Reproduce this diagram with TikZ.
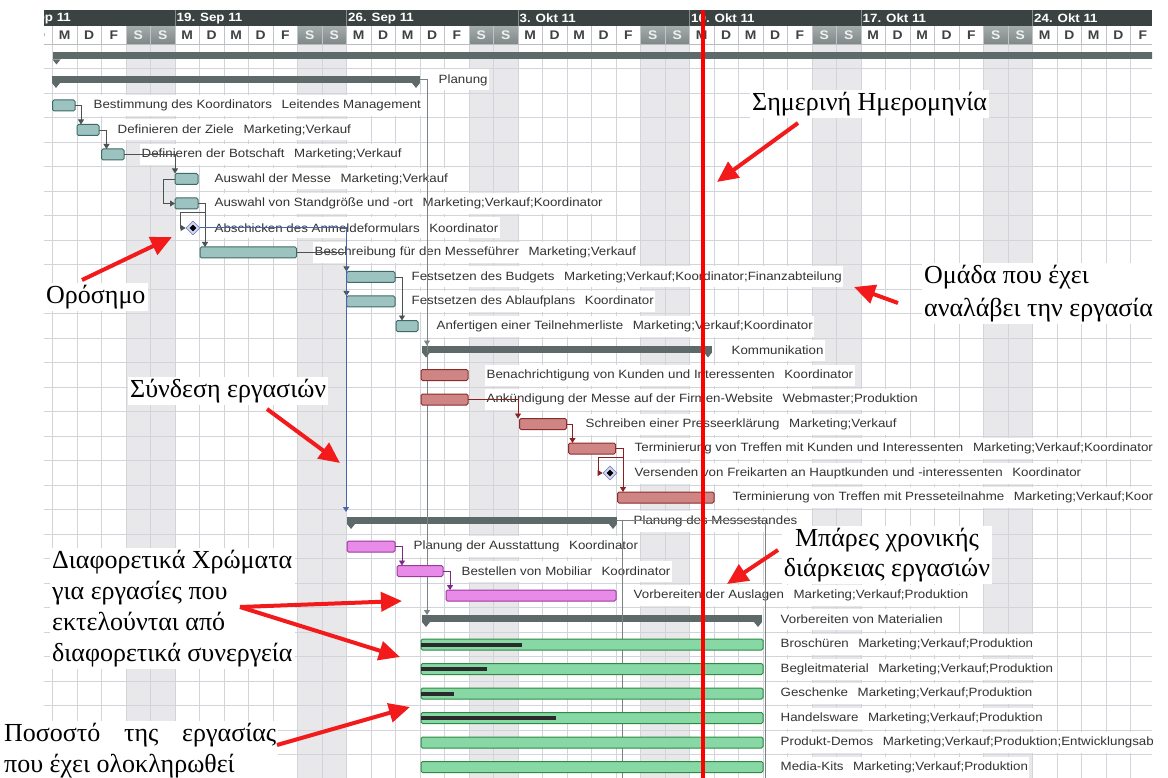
\documentclass[tikz,border=0pt]{standalone}
\usepackage{fontspec}
\setmainfont{Liberation Serif}
\newfontfamily\gsans[FakeStretch=1.11]{Liberation Sans}
\usetikzlibrary{arrows.meta,shapes.geometric}
\definecolor{hdrc}{HTML}{3B4242}
\definecolor{hdrsepc}{HTML}{848C8C}
\definecolor{gridc}{HTML}{D3D4DA}
\definecolor{wkendc}{HTML}{E8E8EA}
\definecolor{wkt}{HTML}{A2AAAA}
\definecolor{wkb}{HTML}{7E8686}
\definecolor{dayc}{HTML}{3E4242}
\definecolor{sumc}{HTML}{5E6969}
\definecolor{tealf}{HTML}{9CC3BF}
\definecolor{teald}{HTML}{3F6B67}
\definecolor{redf}{HTML}{CF8583}
\definecolor{redd}{HTML}{8A2C2C}
\definecolor{magf}{HTML}{E88AE8}
\definecolor{magd}{HTML}{9A3A9E}
\definecolor{grnf}{HTML}{87D8A5}
\definecolor{grnd}{HTML}{2F8A45}
\definecolor{progc}{HTML}{2A2A2A}
\definecolor{txtc}{HTML}{333333}
\definecolor{connc}{HTML}{4A5252}
\definecolor{lconnc}{HTML}{7A8282}
\definecolor{bconnc}{HTML}{4C63B0}
\definecolor{pconnc}{HTML}{7A2A86}
\definecolor{rconnc}{HTML}{8A2020}
\definecolor{arrc}{HTML}{F21A1A}
\definecolor{msf}{HTML}{D5DAF2}
\definecolor{msd}{HTML}{7888C8}
\newcommand\rsep{\hspace{0.8em}}
\begin{document}
\begin{tikzpicture}[x=1pt,y=-1pt,
  gridl/.style={draw=gridc, line width=0.9pt},
  taskbox/.style={draw, rounded corners=1.5pt, line width=1pt, minimum height=11pt, inner sep=0pt, outer sep=0pt, anchor=west},
  tbar/.style={taskbox, fill=tealf, draw=teald},
  rbar/.style={taskbox, fill=redf, draw=redd},
  mbar/.style={taskbox, fill=magf, draw=magd},
  gbar/.style={taskbox, fill=grnf, draw=grnd},
  sbar/.style={fill=sumc, minimum height=7pt, inner sep=0pt, outer sep=0pt, anchor=west},
  prog/.style={fill=progc, minimum height=4pt, inner sep=0pt, outer sep=0pt, anchor=west},
  tlabel/.style={anchor=west, inner xsep=1.5pt, inner ysep=0pt, minimum height=21pt, fill=white, text=txtc, font=\gsans\fontsize{12}{14}\selectfont},
  dayl/.style={inner sep=0pt, text=dayc, font=\gsans\bfseries\fontsize{12.5}{14}\selectfont},
  conn/.style={draw=connc, line width=0.9pt, -{Triangle[length=5pt,width=6pt]}},
  lconn/.style={draw=lconnc, line width=0.9pt, -{Triangle[length=5pt,width=6pt]}},
  lline/.style={draw=lconnc, line width=0.9pt},
  bconn/.style={draw=bconnc, line width=1pt, -{Triangle[length=5pt,width=6pt]}},
  pconn/.style={draw=pconnc, line width=0.9pt, -{Triangle[length=5pt,width=6pt]}},
  rconn/.style={draw=rconnc, line width=0.9pt, -{Triangle[length=5pt,width=6pt]}},
  mstone/.style={diamond, draw=msd, fill=msf, line width=0.8pt, minimum size=14pt, inner sep=0pt},
  mcore/.style={diamond, fill=black, minimum size=7pt, inner sep=0pt},
  ann/.style={fill=white, inner sep=2pt, text=black, font=\fontsize{26}{31}\selectfont},
  redarr/.style={draw=arrc, line width=4pt, -{Triangle[length=21pt,width=19pt]}}
]
\useasboundingbox (0,0) rectangle (1168,778);
\fill[white] (0,0) rectangle (1168,778);
\begin{scope}
\clip (44,10) rectangle (1152,778);
% body weekend shading
\foreach \k in {-1,...,4}{
  \fill[wkendc] ({297.5+171.5*\k},44.3) rectangle ++(49,740);
}
% grid
\foreach \d in {-6,...,40}{
  \draw[gridl] ({175+24.5*\d},44.3) -- ++(0,740);
}
\foreach \n in {0,...,30}{
  \draw[gridl] (44,{44.3+24.5*\n}) -- (1152,{44.3+24.5*\n});
}
% header
\fill[hdrc] (44,10) rectangle (1152,26.5);
\foreach \k/\lab in {-1/12. Sep 11,0/19. Sep 11,1/26. Sep 11,2/3. Okt 11,3/10. Okt 11,4/17. Okt 11,5/24. Okt 11}{
  \draw[hdrsepc, line width=1pt] ({175+171.5*\k},10) -- ++(0,16.5);
  \node[anchor=west, inner sep=0pt, text=white, font=\gsans\bfseries\fontsize{12}{14}\selectfont] at ({176.5+171.5*\k},18.5) {\lab};
}
\foreach \d in {-6,...,39}{
  \pgfmathsetmacro\xa{175+24.5*\d}
  \pgfmathtruncatemacro\wdx{mod(\d+70,7)}
  \ifnum\wdx>4
    \shade[top color=wkt, bottom color=wkb] (\xa,26.5) rectangle ++(24.5,18);
    \node[dayl, text=white!88!gray] at (\xa+12.25,35.5) {S};
  \else
    \node[dayl] at (\xa+12.25,35.5) {\ifcase\wdx M\or D\or M\or D\or F\fi};
  \fi
  \draw[gridc!80!gray, line width=0.8pt] (\xa,26.5) -- ++(0,18);
}
\draw[gridc!70!gray, line width=0.8pt] (44,44.5) -- (1152,44.5);

% labels
\node[tlabel] (t1) at (437,80) {Planung};
\node[tlabel] (t2) at (92,105.5) {Bestimmung des Koordinators\rsep Leitendes Management};
\node[tlabel] (t3) at (116,130) {Definieren der Ziele\rsep Marketing;Verkauf};
\node[tlabel] (t4) at (140,154.5) {Definieren der Botschaft\rsep Marketing;Verkauf};
\node[tlabel] (t5) at (213,179) {Auswahl der Messe\rsep Marketing;Verkauf};
\node[tlabel] (t6) at (213,203.5) {Auswahl von Standgröße und -ort\rsep Marketing;Verkauf;Koordinator};
\node[tlabel] (t7) at (213,228) {Abschicken des Anmeldeformulars\rsep Koordinator};
\node[tlabel] (t8) at (313,252.5) {Beschreibung für den Messeführer\rsep Marketing;Verkauf};
\node[tlabel] (t9) at (410,277) {Festsetzen des Budgets\rsep Marketing;Verkauf;Koordinator;Finanzabteilung};
\node[tlabel] (t10) at (410,301.5) {Festsetzen des Ablaufplans\rsep Koordinator};
\node[tlabel] (t11) at (435,326) {Anfertigen einer Teilnehmerliste\rsep Marketing;Verkauf;Koordinator};
\node[tlabel] (t12) at (730,350) {Kommunikation};
\node[tlabel] (t13) at (485,375) {Benachrichtigung von Kunden und Interessenten\rsep Koordinator};
\node[tlabel] (t14) at (485,399.5) {Ankündigung der Messe auf der Firmen-Website\rsep Webmaster;Produktion};
\node[tlabel] (t15) at (584,424) {Schreiben einer Presseerklärung\rsep Marketing;Verkauf};
\node[tlabel] (t16) at (633,448.5) {Terminierung von Treffen mit Kunden und Interessenten\rsep Marketing;Verkauf;Koordinator};
\node[tlabel] (t17) at (633,473) {Versenden von Freikarten an Hauptkunden und -interessenten\rsep Koordinator};
\node[tlabel] (t18) at (731,497.5) {Terminierung von Treffen mit Presseteilnahme\rsep Marketing;Verkauf;Koordinator};
\node[tlabel] (t19) at (632,521.5) {Planung des Messestandes};
\node[tlabel] (t20) at (412,546.5) {Planung der Ausstattung\rsep Koordinator};
\node[tlabel] (t21) at (460,571) {Bestellen von Mobiliar\rsep Koordinator};
\node[tlabel] (t22) at (632,595.5) {Vorbereiten der Auslagen\rsep Marketing;Verkauf;Produktion};
\node[tlabel] (t23) at (779,619.5) {Vorbereiten von Materialien};
\node[tlabel] (t24) at (779,644.5) {Broschüren\rsep Marketing;Verkauf;Produktion};
\node[tlabel] (t25) at (779,669) {Begleitmaterial\rsep Marketing;Verkauf;Produktion};
\node[tlabel] (t26) at (779,693.5) {Geschenke\rsep Marketing;Verkauf;Produktion};
\node[tlabel] (t27) at (779,718) {Handelsware\rsep Marketing;Verkauf;Produktion};
\node[tlabel] (t28) at (779,742.5) {Produkt-Demos\rsep Marketing;Verkauf;Produktion;Entwicklungsabteilung};
\node[tlabel] (t29) at (779,767) {Media-Kits\rsep Marketing;Verkauf;Produktion};

% summary bars (positions)
\node[sbar, minimum width=1110pt] (s0) at (52.5,56) {};
\node[sbar, minimum width=368pt] (s1) at (52,79.5) {};
\node[sbar, minimum width=290pt] (s12) at (422,349) {};
\node[sbar, minimum width=270pt] (s19) at (347,520.5) {};
\node[sbar, minimum width=340pt] (s23) at (422,618.5) {};
\coordinate (e1) at (622,778);
\coordinate (e2) at (765,778);

% long links behind bars
\draw[lconn] (s1.east) -| ([xshift=5]s12.north west);
\draw[lconn] (s1.east) -| ([xshift=5]s23.north west);
\draw[lline] (s19.east) -| (e1);
\draw[lline] (s19.east) -| (e2);

% summary triangles
\foreach \s in {s0,s1,s12,s19,s23}{
  \fill[sumc] (\s.south west) -- ++(8,0) -- ++(-4,5) -- cycle;
}
\foreach \s in {s1,s12,s19,s23}{
  \fill[sumc] (\s.south east) -- ++(-8,0) -- ++(4,5) -- cycle;
}

% task bars
\node[tbar, minimum width=22.5pt] (b2) at (52.5,105.5) {};
\node[tbar, minimum width=22pt] (b3) at (77,130) {};
\node[tbar, minimum width=22.5pt] (b4) at (101.5,154.5) {};
\node[tbar, minimum width=23pt] (b5) at (175,179) {};
\node[tbar, minimum width=23pt] (b6) at (175,203.5) {};
\node[mstone] (m1) at (193,228) {};
\node[mcore] at (m1) {};
\node[tbar, minimum width=96.5pt] (b8) at (200,252.5) {};
\node[tbar, minimum width=48.5pt] (b9) at (346.5,277) {};
\node[tbar, minimum width=48.5pt] (b10) at (346.5,301.5) {};
\node[tbar, minimum width=22pt] (b11) at (396,326) {};
\node[rbar, minimum width=47pt] (b13) at (421,375) {};
\node[rbar, minimum width=47pt] (b14) at (421,399.5) {};
\node[rbar, minimum width=47pt] (b15) at (519.5,424) {};
\node[rbar, minimum width=47pt] (b16) at (568.5,448.5) {};
\node[mstone] (m2) at (610,473) {};
\node[mcore] at (m2) {};
\node[rbar, minimum width=96.5pt] (b18) at (617.5,497.5) {};
\node[mbar, minimum width=48pt] (b20) at (347,546.5) {};
\node[mbar, minimum width=46pt] (b21) at (397,571) {};
\node[mbar, minimum width=170pt] (b22) at (446,595.5) {};
\node[gbar, minimum width=342pt] (b24) at (421,644.5) {};
\node[gbar, minimum width=342pt] (b25) at (421,669) {};
\node[gbar, minimum width=342pt] (b26) at (421,693.5) {};
\node[gbar, minimum width=342pt] (b27) at (421,718) {};
\node[gbar, minimum width=342pt] (b28) at (421,742.5) {};
\node[gbar, minimum width=342pt] (b29) at (421,767) {};
\node[prog, minimum width=101pt] (p24) at (b24.west) {};
\node[prog, minimum width=66pt] (p25) at (b25.west) {};
\node[prog, minimum width=33pt] (p26) at (b26.west) {};
\node[prog, minimum width=135pt] (p27) at (b27.west) {};

% short links
\draw[conn] (b2.east) -| ([xshift=4]b3.north west);
\draw[conn] (b3.east) -| ([xshift=5]b4.north west);
\draw[conn] (b4.east) -| (b5.north west);
\draw[conn] (b5.west) -- ++(-12,0) |- (b6.west);
\draw[conn] (b6.east) -| ([xshift=5]b8.north west);
\draw[conn] ([xshift=7,yshift=-9]b6.east) -| ([xshift=-13]m1.center) -- (m1.west);
\draw[conn] (b8.east) -| (b9.north west);
\draw[conn] (b8.east) -| (b10.north west);
\draw[conn] (b9.east) -| ([xshift=6]b11.north west);
\draw[bconn] (m1.east) -| ([xshift=-1,yshift=5]s19.north west);
\draw[rconn] (b14.east) -| ([xshift=-1.5]b15.north west);
\draw[rconn] (b15.east) -| ([xshift=4]b16.north west);
\draw[rconn] (b16.east) -| ([xshift=5.5]b18.north west);
\draw[rconn] ([xshift=7.5,yshift=-9]b16.east) -| ([xshift=-12]m2.center) -- (m2.west);
\draw[pconn] (b20.east) -| ([xshift=5]b21.north west);
\draw[pconn] (b21.east) -| ([xshift=4]b22.north west);
\end{scope}

% today line
\coordinate (todayTop) at (703,10);
\coordinate (todayBot) at (703,778);
\draw[draw=red, line width=4pt] (todayTop) -- (todayBot);

% annotations
\node[ann, anchor=west] (a1) at (750,104) {Σημερινή Ημερομηνία};
\node[ann, anchor=west] (a2) at (44,297) {Ορόσημο};
\node[ann, anchor=north west, align=left, font=\fontsize{26}{33}\selectfont] (a3) at (922,263) {Ομάδα που έχει\\αναλάβει την εργασία};
\node[ann, anchor=west] (a4) at (128,391) {Σύνδεση εργασιών};
\node[ann, anchor=north, align=center, font=\fontsize{26}{29.5}\selectfont] (a5) at (887,526) {Μπάρες χρονικής\\διάρκειας εργασιών};
\node[ann, anchor=north west, align=left, font=\fontsize{26}{31}\selectfont] (a6) at (50,548) {Διαφορετικά Χρώματα\\για εργασίες που\\εκτελούνται από\\διαφορετικά συνεργεία};
\node[ann, anchor=north west, align=left, font=\fontsize{26}{30.5}\selectfont] (a7) at (2,721) {\makebox[272pt][s]{Ποσοστό της εργασίας}\\που έχει ολοκληρωθεί};

\coordinate (r1t) at (798,123); \coordinate (r1h) at (717,182);
\coordinate (r2t) at (82,280);  \coordinate (r2h) at (172,237);
\coordinate (r3t) at (898,303); \coordinate (r3h) at (854,287);
\coordinate (r4t) at (267,409); \coordinate (r4h) at (340,463);
\coordinate (r5t) at (778,550); \coordinate (r5h) at (727,584);
\coordinate (r6t) at (240,607); \coordinate (r6h) at (402,601); \coordinate (r6g) at (400,657);
\coordinate (r7t) at (277,745); \coordinate (r7h) at (410,707);
\draw[redarr] (r1t) -- (r1h);
\draw[redarr] (r2t) -- (r2h);
\draw[redarr] (r3t) -- (r3h);
\draw[redarr] (r4t) -- (r4h);
\draw[redarr] (r5t) -- (r5h);
\draw[redarr] (r6t) -- (r6h);
\draw[redarr] (r6t) -- (r6g);
\draw[redarr] (r7t) -- (r7h);
\end{tikzpicture}
\end{document}
